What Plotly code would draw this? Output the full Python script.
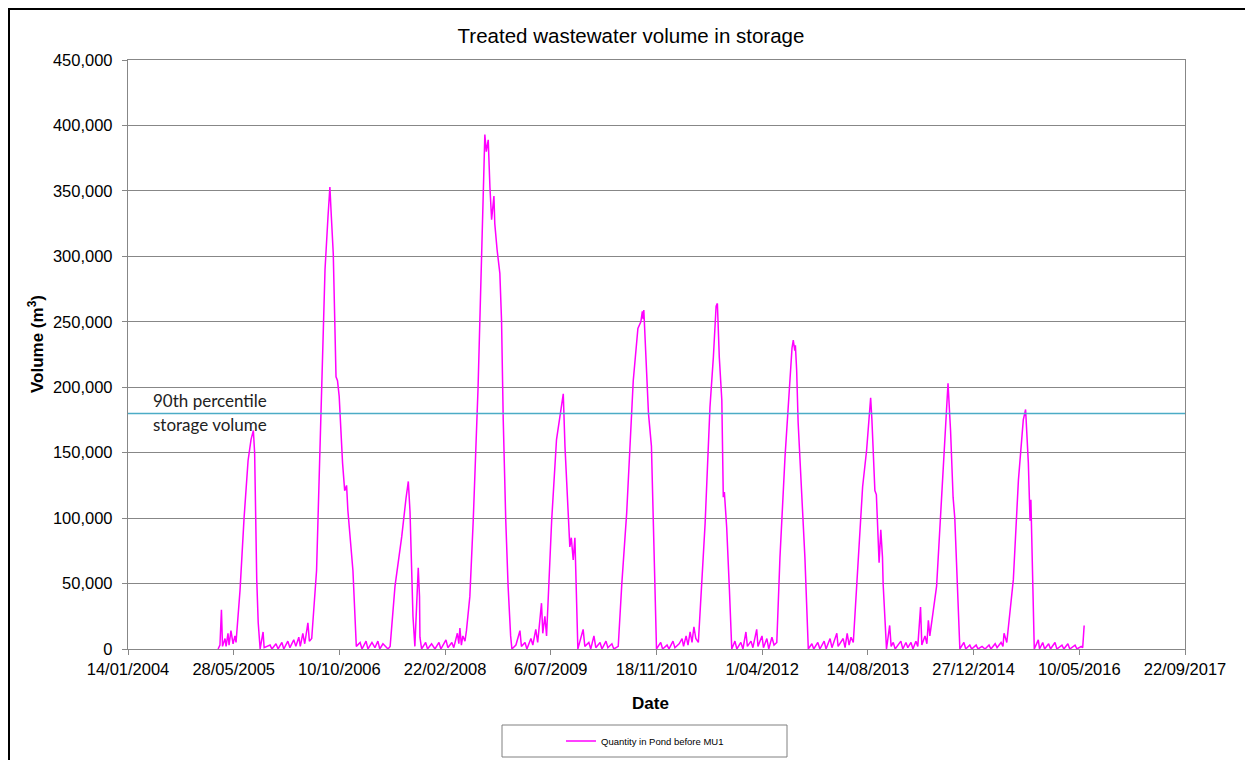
import plotly.graph_objects as go

# ---------------- data ----------------
dates = [
    "2005-03-15", "2005-03-24", "2005-03-31", "2005-04-05", "2005-04-17", "2005-04-22", "2005-05-01", "2005-05-06",
    "2005-05-15", "2005-05-25", "2005-06-03", "2005-06-08", "2005-06-27", "2005-07-16", "2005-08-04", "2005-08-18",
    "2005-08-29", "2005-09-04", "2005-09-14", "2005-09-21", "2005-09-30", "2005-10-14", "2005-10-19", "2005-11-16",
    "2005-11-25", "2005-12-14", "2005-12-24", "2006-01-11", "2006-01-20", "2006-02-08", "2006-02-18", "2006-03-08",
    "2006-03-18", "2006-04-01", "2006-04-08", "2006-04-20", "2006-04-29", "2006-05-14", "2006-05-21", "2006-06-01",
    "2006-06-24", "2006-07-18", "2006-08-03", "2006-08-17", "2006-08-26", "2006-09-02", "2006-09-11", "2006-09-24",
    "2006-10-01", "2006-10-09", "2006-10-17", "2006-10-25", "2006-11-04", "2006-11-13", "2006-11-19", "2006-11-27",
    "2006-12-13", "2006-12-29", "2007-01-16", "2007-01-25", "2007-02-13", "2007-02-22", "2007-03-13", "2007-03-27",
    "2007-04-10", "2007-04-19", "2007-05-04", "2007-05-28", "2007-06-07", "2007-06-30", "2007-08-01", "2007-08-21",
    "2007-09-01", "2007-09-09", "2007-09-17", "2007-09-23", "2007-10-02", "2007-10-09", "2007-10-18", "2007-10-24",
    "2007-10-26", "2007-11-03", "2007-11-22", "2007-12-01", "2007-12-20", "2008-01-05", "2008-01-24", "2008-02-02",
    "2008-02-26", "2008-03-06", "2008-03-25", "2008-04-03", "2008-04-20", "2008-04-27", "2008-05-02", "2008-05-09",
    "2008-05-16", "2008-05-26", "2008-06-02", "2008-06-18", "2008-07-04", "2008-07-27", "2008-08-12", "2008-08-28",
    "2008-09-04", "2008-09-13", "2008-09-21", "2008-09-29", "2008-10-10", "2008-10-14", "2008-10-25", "2008-11-07",
    "2008-11-15", "2008-11-23", "2008-12-05", "2008-12-16", "2008-12-28", "2009-01-03", "2009-01-22", "2009-02-10",
    "2009-02-17", "2009-03-06", "2009-03-15", "2009-04-03", "2009-04-12", "2009-04-26", "2009-05-05", "2009-05-15",
    "2009-05-23", "2009-05-29", "2009-06-08", "2009-06-16", "2009-07-10", "2009-08-02", "2009-08-26", "2009-09-03",
    "2009-09-11", "2009-09-26", "2009-10-04", "2009-10-11", "2009-10-20", "2009-10-28", "2009-11-05", "2009-11-11",
    "2009-12-06", "2009-12-14", "2010-01-02", "2010-01-11", "2010-01-26", "2010-02-04", "2010-02-24", "2010-03-05",
    "2010-03-24", "2010-04-02", "2010-04-21", "2010-04-30", "2010-05-21", "2010-06-07", "2010-06-30", "2010-07-31",
    "2010-08-22", "2010-09-05", "2010-09-12", "2010-09-16", "2010-09-19", "2010-10-02", "2010-10-11", "2010-10-25",
    "2010-11-05", "2010-11-18", "2010-12-08", "2010-12-17", "2011-01-07", "2011-01-16", "2011-02-04", "2011-02-13",
    "2011-03-05", "2011-03-19", "2011-03-26", "2011-04-07", "2011-04-16", "2011-04-26", "2011-05-05", "2011-05-14",
    "2011-05-23", "2011-06-04", "2011-07-06", "2011-07-29", "2011-08-14", "2011-08-27", "2011-09-02", "2011-09-11",
    "2011-09-23", "2011-09-30", "2011-10-05", "2011-10-16", "2011-10-29", "2011-11-09", "2011-11-24", "2011-12-03",
    "2011-12-22", "2012-01-01", "2012-01-15", "2012-01-22", "2012-02-08", "2012-02-17", "2012-03-06", "2012-03-12",
    "2012-03-31", "2012-04-07", "2012-04-23", "2012-05-02", "2012-05-17", "2012-05-27", "2012-06-09", "2012-06-24",
    "2012-07-18", "2012-08-10", "2012-08-20", "2012-08-26", "2012-09-02", "2012-09-05", "2012-09-11", "2012-09-18",
    "2012-10-04", "2012-10-20", "2012-11-05", "2012-11-22", "2012-12-01", "2012-12-20", "2012-12-30", "2013-01-19",
    "2013-01-28", "2013-02-16", "2013-02-25", "2013-03-20", "2013-03-26", "2013-04-19", "2013-04-28", "2013-05-08",
    "2013-05-17", "2013-05-26", "2013-06-06", "2013-06-30", "2013-07-20", "2013-08-08", "2013-08-19", "2013-08-27",
    "2013-09-02", "2013-09-07", "2013-09-16", "2013-09-23", "2013-09-28", "2013-10-06", "2013-10-14", "2013-10-22",
    "2013-10-25", "2013-11-10", "2013-11-25", "2013-12-02", "2013-12-12", "2013-12-21", "2014-01-17", "2014-01-26",
    "2014-02-10", "2014-02-19", "2014-03-06", "2014-03-15", "2014-03-29", "2014-04-07", "2014-04-20", "2014-04-26",
    "2014-05-11", "2014-05-20", "2014-05-27", "2014-06-03", "2014-07-05", "2014-07-20", "2014-08-05", "2014-08-21",
    "2014-08-28", "2014-09-09", "2014-09-21", "2014-09-29", "2014-10-15", "2014-10-23", "2014-11-11", "2014-11-20",
    "2014-12-09", "2014-12-18", "2015-01-08", "2015-01-17", "2015-02-05", "2015-02-19", "2015-03-10", "2015-03-19",
    "2015-04-08", "2015-04-17", "2015-05-06", "2015-05-15", "2015-05-20", "2015-06-02", "2015-07-03", "2015-07-27",
    "2015-08-19", "2015-08-30", "2015-09-12", "2015-09-20", "2015-09-24", "2015-09-30", "2015-10-10", "2015-10-29",
    "2015-11-04", "2015-11-19", "2015-11-28", "2015-12-17", "2015-12-26", "2016-01-16", "2016-01-25", "2016-02-18",
    "2016-02-27", "2016-03-17", "2016-03-26", "2016-04-20", "2016-04-29", "2016-05-19", "2016-05-26", "2016-06-02",
]

volume_m3 = [
    0, 3000, 30000, 2000, 8000, 2000, 12000, 3000,
    14000, 4000, 10000, 5000, 45000, 100000, 144000, 160000,
    167000, 150000, 53000, 20000, 0, 13000, 1000, 3000,
    0, 4000, 0, 5000, 0, 6000, 1000, 7000,
    2000, 9000, 2000, 12000, 4000, 20000, 6000, 8000,
    60000, 200000, 290000, 330000, 353000, 330000, 302000, 208000,
    205000, 193000, 162000, 142000, 121000, 125000, 106000, 91000,
    60000, 2000, 5000, 0, 6000, 0, 5000, 1000,
    6000, 0, 4000, 0, 2000, 48000, 86000, 115000,
    128000, 105000, 60000, 25000, 2000, 30000, 62000, 40000,
    9000, 0, 5000, 0, 4000, 0, 5000, 0,
    7000, 1000, 5000, 1000, 12000, 4000, 16000, 3000,
    10000, 6000, 14000, 40000, 98000, 200000, 302000, 393000,
    380000, 389000, 353000, 328000, 346000, 325000, 305000, 287000,
    251000, 175000, 98000, 48000, 10000, 0, 3000, 14000,
    2000, 5000, 0, 8000, 3000, 15000, 5000, 20000,
    35000, 12000, 25000, 10000, 98000, 160000, 188000, 195000,
    155000, 98000, 78000, 85000, 68000, 85000, 22000, 0,
    15000, 2000, 5000, 0, 10000, 1000, 5000, 0,
    6000, 1000, 4000, 0, 2000, 50000, 104000, 205000,
    245000, 250000, 258000, 252000, 259000, 205000, 180000, 155000,
    80000, 0, 5000, 0, 3000, 0, 6000, 1000,
    4000, 8000, 2000, 10000, 3000, 13000, 5000, 17000,
    8000, 5000, 96000, 185000, 223000, 262000, 264000, 223000,
    190000, 116000, 120000, 93000, 45000, 0, 6000, 0,
    5000, 0, 13000, 2000, 6000, 1000, 15000, 2000,
    10000, 1000, 8000, 0, 9000, 3000, 5000, 70000,
    147000, 211000, 230000, 236000, 228000, 232000, 213000, 173000,
    121000, 70000, 0, 4000, 0, 5000, 0, 6000,
    0, 8000, 1000, 12000, 2000, 8000, 1000, 12000,
    3000, 9000, 5000, 70000, 124000, 152000, 178000, 192000,
    175000, 155000, 121000, 118000, 100000, 66000, 91000, 70000,
    50000, 0, 18000, 2000, 5000, 0, 6000, 0,
    5000, 1000, 5000, 0, 6000, 2000, 32000, 3000,
    10000, 4000, 22000, 10000, 48000, 91000, 142000, 180000,
    203000, 167000, 116000, 100000, 27000, 0, 5000, 0,
    3000, 0, 3000, 0, 2000, 0, 3000, 0,
    4000, 1000, 5000, 2000, 12000, 5000, 53000, 129000,
    175000, 183000, 142000, 98000, 114000, 66000, 0, 7000,
    0, 5000, 0, 4000, 0, 5000, 0, 3000,
    0, 4000, 0, 3000, 0, 2000, 1000, 18000,
]

percentile_90_volume = 180000
x_start, x_end = "2004-01-14", "2017-09-22"

x_tick_dates = ["2004-01-14", "2005-05-28", "2006-10-10", "2008-02-22", "2009-07-06",
                "2010-11-18", "2012-04-01", "2013-08-14", "2014-12-27", "2016-05-10", "2017-09-22"]
x_tick_labels = ["14/01/2004", "28/05/2005", "10/10/2006", "22/02/2008", "6/07/2009",
                 "18/11/2010", "1/04/2012", "14/08/2013", "27/12/2014", "10/05/2016", "22/09/2017"]
y_tick_values = [0, 50000, 100000, 150000, 200000, 250000, 300000, 350000, 400000, 450000]

series_name = "Quantity in Pond before MU1"
title_text = "Treated wastewater volume in storage"

# ---------------- figure ----------------
FONT = "Liberation Sans, Arial, sans-serif"
GRID = "#878787"

# the page body has an 8px margin, so the figure is drawn 8px right/down
OFF = 8
FIG_W, FIG_H = 1253 - OFF, 760 - OFF
PL, PT, PR, PB = 128, 60, 1185, 649          # plot area edges in window pixels
PW, PH = PR - PL, PB - PT


def px(xw):
    return (xw - PL) / PW


def py(yw):
    return (PB - yw) / PH


fig = go.Figure()
fig.add_trace(go.Scatter(
    x=dates, y=volume_m3, mode="lines", name=series_name,
    line=dict(color="#FF00FF", width=1.5), showlegend=True,
))
fig.add_trace(go.Scatter(
    x=[x_start, x_end], y=[percentile_90_volume, percentile_90_volume], mode="lines",
    line=dict(color="#4BACC6", width=1.5), showlegend=False,
))

fig.update_layout(
    width=FIG_W, height=FIG_H,
    margin=dict(l=PL - OFF, r=1253 - PR, t=PT - OFF, b=760 - PB, pad=0, autoexpand=False),
    paper_bgcolor="white", plot_bgcolor="white",
    font=dict(family=FONT, color="black"),
    title=dict(text=title_text, x=(631 - OFF) / FIG_W, xref="container", xanchor="center",
               y=1 - (36 - OFF) / FIG_H, yref="container", yanchor="middle",
               font=dict(family=FONT, size=20.5, color="black")),
    showlegend=True,
    legend=dict(orientation="h", x=px(561), xanchor="left",
                y=py(741), yanchor="middle",
                bgcolor="rgba(0,0,0,0)", borderwidth=0,
                font=dict(family=FONT, size=9.5, color="black"),
                itemwidth=30),
)

fig.update_xaxes(
    type="date", range=[x_start, x_end],
    tickmode="array", tickvals=x_tick_dates, ticktext=x_tick_labels,
    ticks="outside", ticklen=5, tickcolor=GRID, tickwidth=1,
    tickfont=dict(family=FONT, size=16.5, color="black"),
    showgrid=False, showline=True, linecolor=GRID, linewidth=1.3, mirror=True,
    zeroline=False,
)
fig.update_yaxes(
    range=[0, 450000], tickmode="array", tickvals=y_tick_values, tickformat=",d",
    ticks="outside", ticklen=5, tickcolor=GRID, tickwidth=1,
    tickfont=dict(family=FONT, size=16.5, color="black"),
    showgrid=True, gridcolor=GRID, gridwidth=1.3,
    showline=True, linecolor=GRID, linewidth=1.3, mirror=True,
    zeroline=False, ticklabelstandoff=6,
)

# outer chart border
fig.add_shape(type="rect", xref="paper", yref="paper",
              x0=px(9), x1=px(1275), y0=py(785), y1=py(9),
              line=dict(color="black", width=2), fillcolor="rgba(0,0,0,0)", layer="below")
# legend box
fig.add_shape(type="rect", xref="paper", yref="paper",
              x0=px(502), x1=px(787), y0=py(757), y1=py(725),
              line=dict(color="#808080", width=1), fillcolor="rgba(0,0,0,0)")

# annotations
fig.add_annotation(text="90th percentile", xref="paper", yref="paper",
                   x=px(151), y=py(400), xanchor="left", yanchor="middle",
                   showarrow=False, font=dict(family="Lato, sans-serif", size=17, color="#222"))
fig.add_annotation(text="storage volume", xref="paper", yref="paper",
                   x=px(151), y=py(424), xanchor="left", yanchor="middle",
                   showarrow=False, font=dict(family="Lato, sans-serif", size=17, color="#222"))
fig.add_annotation(text="<b>Volume (m<sup>3</sup>)</b>", xref="paper", yref="paper",
                   x=px(36), y=py(344), xanchor="center", yanchor="middle",
                   textangle=-90, showarrow=False, font=dict(family=FONT, size=17, color="black"))
fig.add_annotation(text="<b>Date</b>", xref="paper", yref="paper",
                   x=px(650), y=py(703), xanchor="center", yanchor="middle",
                   showarrow=False, font=dict(family=FONT, size=17, color="black"))

fig.write_html("out.html")
